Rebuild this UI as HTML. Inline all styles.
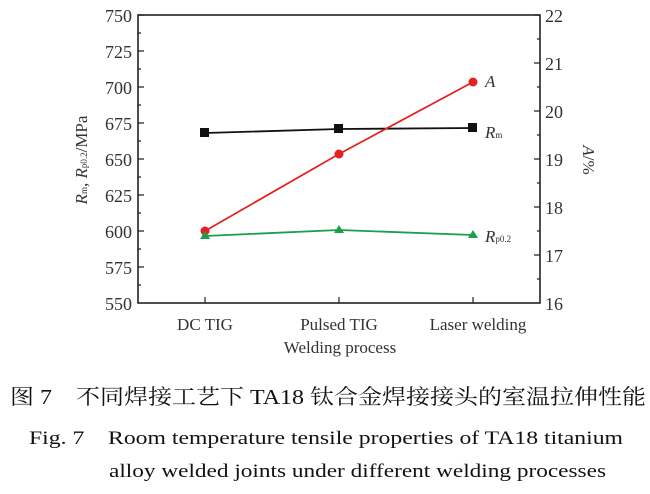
<!DOCTYPE html>
<html><head><meta charset="utf-8"><style>
body{margin:0;background:#fff;width:650px;height:489px;overflow:hidden}
</style></head><body>
<svg width="650" height="489" xmlns="http://www.w3.org/2000/svg" font-family="'Liberation Serif','Noto Serif CJK SC',serif">
<rect x="138" y="15" width="402" height="288" fill="none" stroke="#222" stroke-width="1.6"/>
<g stroke="#222" stroke-width="1.2">
<path d="M138 15h6M138 51h6M138 87h6M138 123h6M138 159h6M138 195h6M138 231h6M138 267h6
M138 33h3M138 69h3M138 105h3M138 141h3M138 177h3M138 213h3M138 249h3M138 285h3"/>
<path d="M540 15h-6M540 63h-6M540 111h-6M540 159h-6M540 207h-6M540 255h-6
M540 39h-3M540 87h-3M540 135h-3M540 183h-3M540 231h-3M540 279h-3"/>
<path d="M205 303v-6M339 303v-6M473 303v-6"/>
</g>
<g font-size="18" fill="#333" text-anchor="end">
<text x="132" y="22">750</text><text x="132" y="58">725</text><text x="132" y="94">700</text><text x="132" y="130">675</text><text x="132" y="166">650</text><text x="132" y="202">625</text><text x="132" y="238">600</text><text x="132" y="274">575</text><text x="132" y="310">550</text>
</g>
<g font-size="18" fill="#333">
<text x="545" y="22">22</text><text x="545" y="70">21</text><text x="545" y="118">20</text><text x="545" y="166">19</text><text x="545" y="214">18</text><text x="545" y="262">17</text><text x="545" y="310">16</text>
</g>
<g font-size="17" fill="#333" text-anchor="middle">
<text x="205" y="330">DC TIG</text><text x="339" y="330">Pulsed TIG</text><text x="478" y="330">Laser welding</text>
<text x="340" y="353">Welding process</text>
</g>
<text transform="translate(87 160) rotate(-90)" font-size="17" fill="#333" text-anchor="middle"><tspan font-style="italic">R</tspan><tspan font-size="9">m</tspan>, <tspan font-style="italic">R</tspan><tspan font-size="9">p0.2</tspan>/MPa</text>
<text transform="translate(583 160) rotate(90)" font-size="17" fill="#333" text-anchor="middle"><tspan font-style="italic">A</tspan>/%</text>
<polyline points="205,133 339,129 473,128" fill="none" stroke="#111" stroke-width="1.8"/>
<g fill="#111"><rect x="200" y="128" width="9" height="9"/><rect x="334" y="124" width="9" height="9"/><rect x="468" y="123" width="9" height="9"/></g>
<polyline points="205,231 339,154 473,82" fill="none" stroke="#e52222" stroke-width="1.8"/>
<g fill="#e52222"><circle cx="205" cy="231" r="4.5"/><circle cx="339" cy="154" r="4.5"/><circle cx="473" cy="82" r="4.5"/></g>
<polyline points="205,236 339,230 473,235" fill="none" stroke="#1aa04a" stroke-width="1.8"/>
<g fill="#1aa04a"><path d="M205 231l5 8h-10z"/><path d="M339 225l5 8h-10z"/><path d="M473 230l5 8h-10z"/></g>
<g font-size="17" fill="#333" font-style="italic">
<text x="485" y="87">A</text>
<text x="485" y="138">R<tspan font-size="9" font-style="normal">m</tspan></text>
<text x="485" y="242">R<tspan font-size="9" font-style="normal">p0.2</tspan></text>
</g>
<text x="10" y="404" font-size="21" fill="#111" textLength="636" lengthAdjust="spacingAndGlyphs">图 7　不同焊接工艺下 TA18 钛合金焊接接头的室温拉伸性能</text>
<text x="29" y="444" font-size="19" fill="#111" textLength="594" lengthAdjust="spacingAndGlyphs">Fig. 7　Room temperature tensile properties of TA18 titanium</text>
<text x="109" y="477" font-size="19" fill="#111" textLength="497" lengthAdjust="spacingAndGlyphs">alloy welded joints under different welding processes</text>
</svg>
</body></html>
